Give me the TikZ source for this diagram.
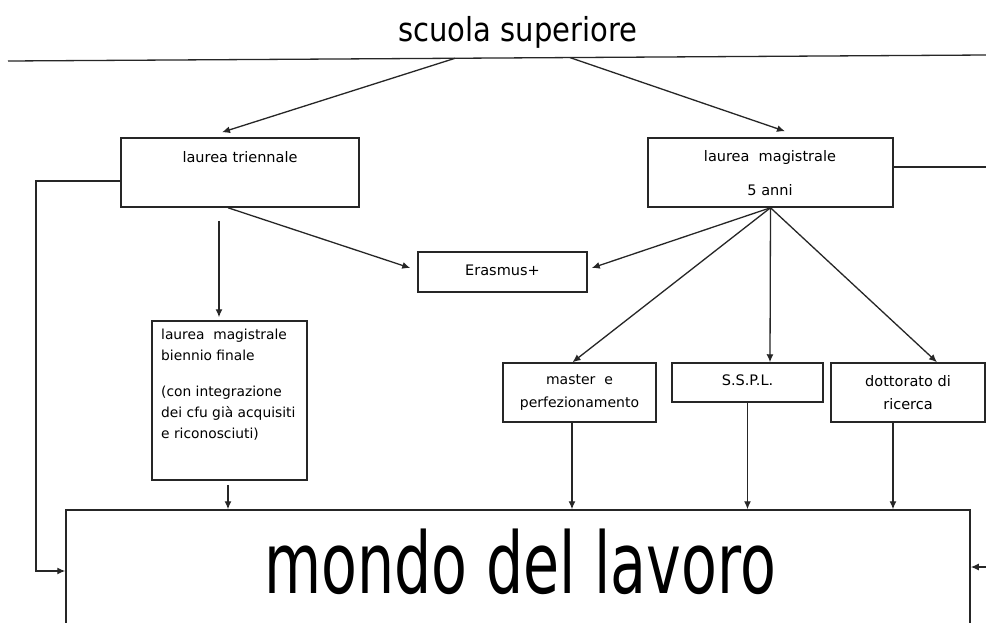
\documentclass[tikz,border=0pt]{standalone}
\usepackage{fontspec}
\setmainfont{DejaVu Sans}
\usepackage{graphicx}
\usetikzlibrary{arrows.meta,calc}
\begin{document}
\begin{tikzpicture}[x=1pt,y=-1pt,
  box/.style={draw=black!85, line width=1.5pt, rectangle, inner sep=0pt},
  conn/.style={draw=black!85, line width=1.3pt},
  arr/.style={conn, -{Latex[length=8pt,width=7pt]}},
  lbl/.style={font=\fontsize{14.5}{21}\selectfont, inner sep=0pt, align=center}]
\useasboundingbox (0,0) rectangle (986,622);
\fill[white] (0,0) rectangle (986,622);

% title and line
\node[inner sep=0pt] (title) at (518,32) {\scalebox{0.88}[1]{\fontsize{33}{38}\selectfont scuola superiore}};
\coordinate (hl) at (8,61);
\coordinate (hr) at (986,55);
\draw[conn] (hl) -- (hr);
\coordinate (s1) at (455,58.3);
\coordinate (s2) at (570,57.6);

% boxes
\node[box, minimum width=238pt, minimum height=69pt] (tri) at (240,172.5) {};
\node[box, minimum width=245pt, minimum height=69pt] (mag) at (770.5,172.5) {};
\node[box, minimum width=169pt, minimum height=40pt] (eras) at (502.5,272) {};
\node[box, minimum width=155pt, minimum height=159pt] (bien) at (229.5,400.5) {};
\node[box, minimum width=153pt, minimum height=59pt] (mast) at (579.5,392.5) {};
\node[box, minimum width=151pt, minimum height=39pt] (sspl) at (747.5,382.5) {};
\node[box, minimum width=154pt, minimum height=59pt] (dott) at (908,392.5) {};
\node[box, minimum width=904pt, minimum height=140pt] (mondo) at (518,580) {};

% texts
\node[lbl] (tritxt) at (240,157) {laurea triennale};
\node[lbl] (magtxt) at (770,157) {laurea\ \ magistrale};
\node[lbl] (magtxt2) at (770,190) {5 anni};
\node[lbl] (erastxt) at (502.5,270) {Erasmus+};
\node[lbl, anchor=north west, align=left, font=\fontsize{13.8}{21}\selectfont] (bientxt) at (161,329)
  {laurea\ \ magistrale\\biennio finale\\[15pt](con integrazione\\dei cfu già acquisiti\\e riconosciuti)};
\node[lbl, font=\fontsize{14}{23}\selectfont] (masttxt) at (579.5,392.5) {master\ \ e\\perfezionamento};
\node[lbl] (sspltxt) at (747.5,380) {S.S.P.L.};
\node[lbl, font=\fontsize{14.5}{23}\selectfont] (dotttxt) at (908,392.5) {dottorato di\\ricerca};
\node[inner sep=0pt] (mondotxt) at (520,562) {\scalebox{0.69}[1]{\fontsize{85}{95}\selectfont mondo del lavoro}};

% top arrows
\draw[arr] (s1) -- ($(tri.north)+(-18,-5)$);
\draw[arr] (s2) -- ($(mag.north)+(14.5,-6)$);

% triennale connections
\draw[arr] ($(tri.south)+(-21,13)$) -- ($(bien.north)+(-10.5,-3)$);
\draw[arr] ($(tri.south)+(-12,0)$) -- ($(eras.west)+(-7,-4)$);
\coordinate (lc1) at (36,181);
\coordinate (lc2) at (36,571);
\draw[arr] ($(tri.west)+(0,8.5)$) -- (lc1) -- (lc2) -- (lc2 -| mondo.west);

% magistrale connections
\draw[arr] (mag.south) -- ($(eras.east)+(4,-4)$);
\draw[arr] (mag.south) -- ($(mast.north)+(-7,0)$);
\draw[arr] (mag.south) -- ($(sspl.north)+(22.5,0)$);
\draw[arr] (mag.south) -- ($(dott.north)+(29,0)$);
\coordinate (rt) at (986,167);
\draw[conn] ($(mag.east)+(0,-5.5)$) -- (rt);

% down to mondo
\coordinate (b1) at ($(bien.south)+(-1.5,4)$);
\draw[arr] (b1) -- (b1 |- mondo.north);
\coordinate (b2) at ($(mast.south)+(-7.5,0)$);
\draw[arr] (b2) -- (b2 |- mondo.north);
\draw[arr] (sspl.south) -- (sspl.south |- mondo.north);
\coordinate (b4) at ($(dott.south)+(-15,0)$);
\draw[arr] (b4) -- (b4 |- mondo.north);
\coordinate (rr) at (986,567);
\draw[arr] (rr) -- (rr -| mondo.east);
\end{tikzpicture}
\end{document}
